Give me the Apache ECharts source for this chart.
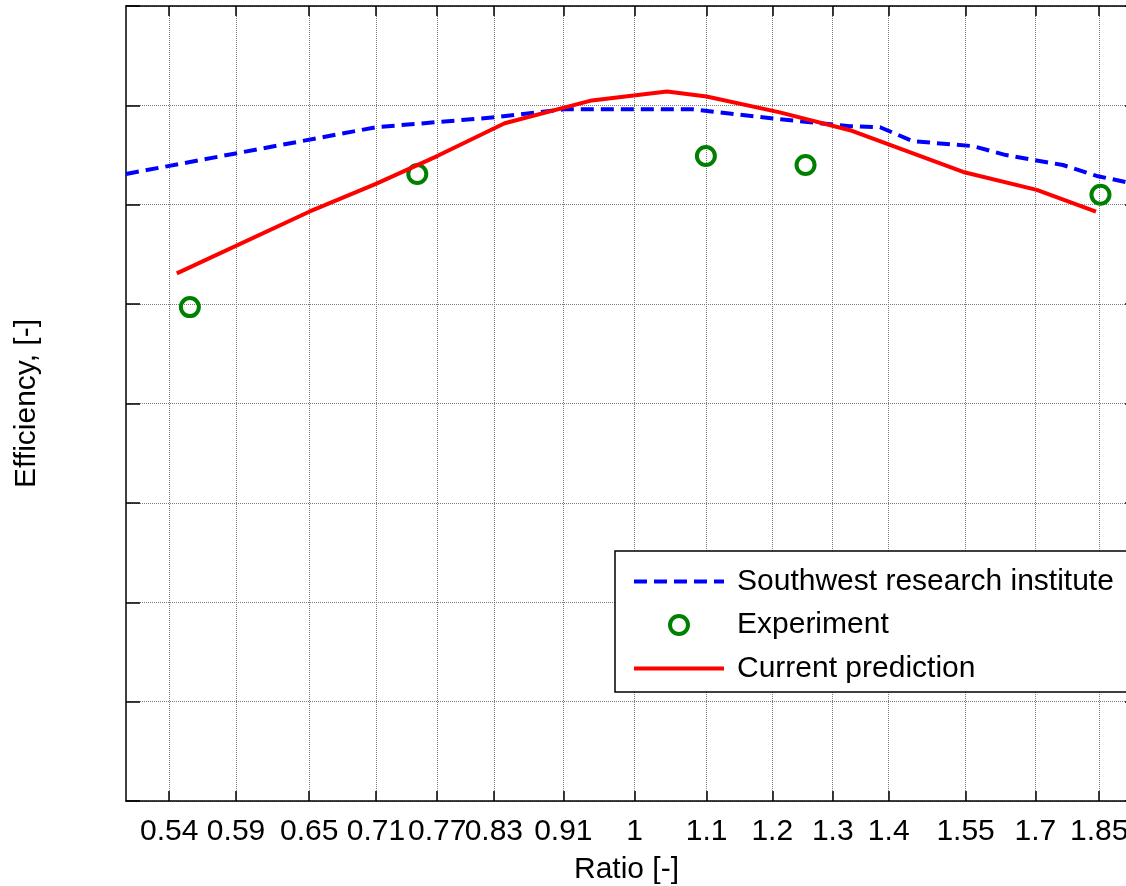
<!DOCTYPE html>
<html>
<head>
<meta charset="utf-8">
<style>
  html, body { margin: 0; padding: 0; background: #fff; }
  #chart { width: 1126px; height: 886px; }
</style>
<script src="https://cdn.jsdelivr.net/npm/echarts@6/dist/echarts.min.js"></script>
</head>
<body>
<div id="chart"></div>
<script>
// Tick positions on the logarithmic ratio axis
const ratioTicks = [0.54, 0.59, 0.65, 0.71, 0.77, 0.83, 0.91, 1, 1.1, 1.2, 1.3, 1.4, 1.55, 1.7, 1.85];

// Southwest research institute curve
const swriRatio = [0.51, 0.710, 0.831, 0.911, 1.080, 1.212, 1.330, 1.384, 1.445, 1.565, 1.635, 1.763, 1.844, 1.95];
const swriEff   = [0.831, 0.878, 0.888, 0.896, 0.896, 0.886, 0.879, 0.878, 0.864, 0.859, 0.850, 0.840, 0.829, 0.820];

// Experimental points
const expRatio = [0.555, 0.750, 1.099, 1.254, 1.853];
const expEff   = [0.697, 0.831, 0.849, 0.840, 0.810];

// Current prediction curve
const predRatio = [0.5455, 0.650, 0.710, 0.770, 0.842, 0.945, 1.044, 1.100, 1.212, 1.330, 1.545, 1.703, 1.842];
const predEff   = [0.731, 0.793, 0.821, 0.849, 0.882, 0.905, 0.914, 0.909, 0.893, 0.875, 0.833, 0.815, 0.793];

const FONT = '"Liberation Sans", Arial, Helvetica, sans-serif';
const zip = (xs, ys) => xs.map((x, i) => [x, ys[i]]);

const frameLine = { show: true, onZero: false, lineStyle: { color: '#000', width: 1.5 } };
const gridLine = { show: true, lineStyle: { color: '#7a7a7a', type: 'dotted', width: 1 } };
const tickStyle = { color: '#000', width: 1.5 };
// line legend entries show only the stroke, no marker
const noMarker = { color: 'rgba(0,0,0,0)', borderWidth: 0 };

const chart = echarts.init(document.getElementById('chart'), null, { renderer: 'canvas' });

chart.setOption({
  animation: false,
  backgroundColor: '#fff',
  textStyle: { fontFamily: FONT },
  grid: { left: 126, top: 6, width: 1013, height: 795, outerBoundsMode: 'none', containLabel: false },
  xAxis: [
    {
      type: 'log', logBase: 10, min: 0.51, max: 1.95, position: 'bottom',
      name: 'Ratio [-]', nameLocation: 'middle', nameGap: 54,
      nameTextStyle: { fontSize: 30, color: '#000', fontFamily: FONT, padding: [0, 12, 0, 0] },
      axisLine: frameLine,
      axisTick: { show: true, inside: true, length: 10, customValues: ratioTicks, lineStyle: tickStyle },
      axisLabel: {
        show: true, customValues: ratioTicks, margin: 16, fontSize: 30, color: '#000', fontFamily: FONT,
        formatter: v => String(+Number(v).toFixed(2))
      },
      splitLine: gridLine,
      minorTick: { show: false }, minorSplitLine: { show: false }
    },
    {
      type: 'log', logBase: 10, min: 0.51, max: 1.95, position: 'top',
      axisLine: frameLine,
      axisTick: { show: true, inside: true, length: 10, customValues: ratioTicks, lineStyle: tickStyle },
      axisLabel: { show: false },
      splitLine: { show: false }
    }
  ],
  yAxis: [
    {
      type: 'value', min: 0.2, max: 1.0, interval: 0.1, position: 'left',
      name: 'Efficiency, [-]', nameLocation: 'middle', nameGap: 84, nameRotate: 90,
      nameTextStyle: { fontSize: 30, color: '#000', fontFamily: FONT },
      axisLine: frameLine,
      axisTick: { show: true, inside: true, length: 14, lineStyle: tickStyle },
      axisLabel: { show: false },
      splitLine: gridLine
    },
    {
      type: 'value', min: 0.2, max: 1.0, interval: 0.1, position: 'right',
      axisLine: frameLine,
      axisTick: { show: true, inside: true, length: 14, lineStyle: tickStyle },
      axisLabel: { show: false },
      splitLine: { show: false }
    }
  ],
  legend: {
    orient: 'vertical', left: 615, top: 551,
    backgroundColor: '#fff', borderColor: '#000', borderWidth: 1.5, borderRadius: 0,
    padding: [15, 20, 8, 17],
    itemWidth: 90, itemHeight: 18, itemGap: 12.5,
    selectedMode: false,
    lineStyle: { width: 4 },
    itemStyle: { borderWidth: 4 },
    textStyle: { fontSize: 30, color: '#000', fontFamily: FONT, lineHeight: 31, padding: [0, 0, 0, 8] },
    data: [
      { name: 'Southwest research institute', itemStyle: noMarker },
      { name: 'Experiment' },
      { name: 'Current prediction', itemStyle: noMarker }
    ]
  },
  series: [
    {
      name: 'Southwest research institute', type: 'line', symbol: 'none',
      data: zip(swriRatio, swriEff),
      lineStyle: { color: '#0000ff', width: 4, type: [13, 7] },
      itemStyle: { color: '#0000ff' }
    },
    {
      name: 'Experiment', type: 'scatter', symbol: 'circle', symbolSize: 18,
      data: zip(expRatio, expEff),
      itemStyle: { color: 'rgba(0,0,0,0)', borderColor: '#008000', borderWidth: 4, opacity: 1 }
    },
    {
      name: 'Current prediction', type: 'line', symbol: 'none',
      data: zip(predRatio, predEff),
      lineStyle: { color: '#ff0000', width: 4 },
      itemStyle: { color: '#ff0000' }
    }
  ]
});
</script>
</body>
</html>
